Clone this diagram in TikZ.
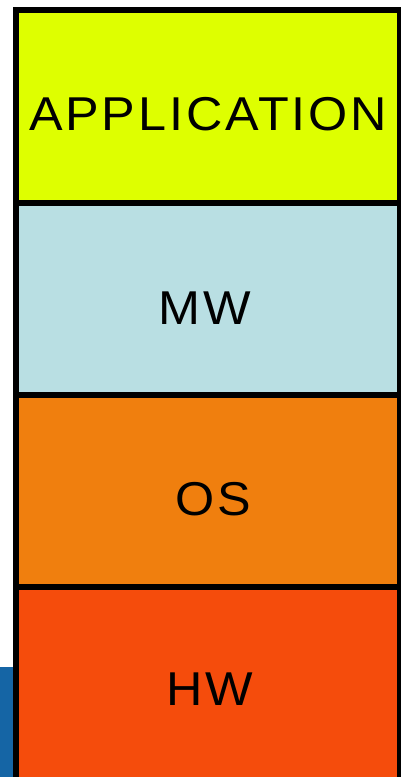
\documentclass[tikz,border=0pt]{standalone}
\usepackage{fontspec}
\newfontfamily\labfont{Liberation Sans}[LetterSpace=6,FakeStretch=1.06]
\definecolor{appc}{RGB}{222,255,0}
\definecolor{mwc}{RGB}{185,223,227}
\definecolor{osc}{RGB}{240,127,14}
\definecolor{hwc}{RGB}{245,76,12}
\definecolor{bluec}{RGB}{21,101,165}
\begin{document}
\begin{tikzpicture}[x=1pt,y=-1pt,
  layer/.style={draw=black,line width=6pt},
  lab/.style={anchor=base,inner sep=0pt,font=\labfont\fontsize{47.5}{50}\selectfont,text=black}]
\useasboundingbox (0,0) rectangle (401,777);
\fill[bluec] (0,667) rectangle (16,777);
\draw[layer,fill=appc] (16,10) rectangle (400,203);
\draw[layer,fill=mwc] (16,203) rectangle (400,395);
\draw[layer,fill=osc] (16,395) rectangle (400,587);
\draw[layer,fill=hwc] (16,587) rectangle (400,780);
\node[lab] (app) at (208,130) {APPLICATION};
\node[lab] (mw) at (205,324) {MW};
\node[lab] (os) at (213,515.5) {OS};
\node[lab] (hw) at (210,705) {HW};
\end{tikzpicture}
\end{document}
